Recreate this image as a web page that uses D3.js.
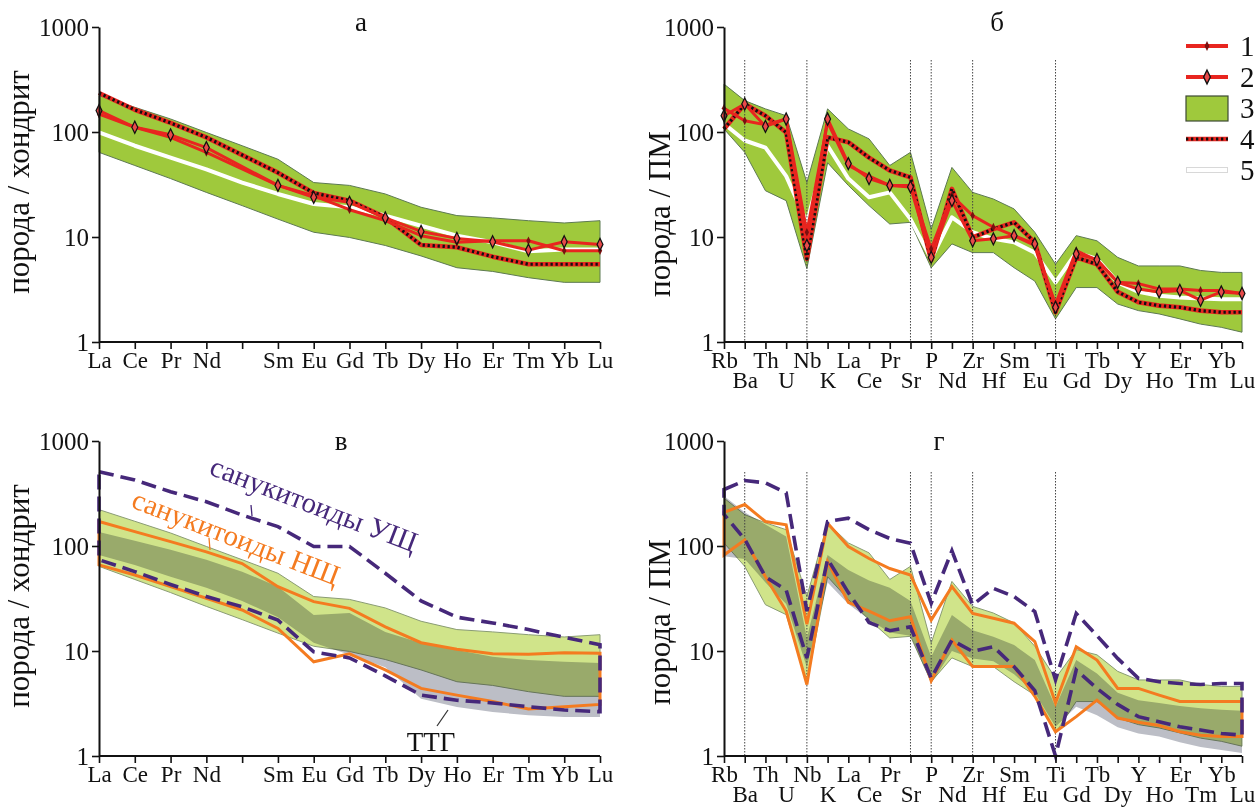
<!DOCTYPE html>
<html><head><meta charset="utf-8">
<script src="https://cdn.jsdelivr.net/npm/d3@7"></script>
<style>
body{margin:0;background:#fff}
svg{display:block}
text{font-family:"Liberation Serif","Times New Roman",serif;fill:#111}
</style>
</head><body>
<svg id="c" width="1260" height="810"></svg>
<script>
// ---------- categories ----------
const REE = ["La","Ce","Pr","Nd","Pm","Sm","Eu","Gd","Tb","Dy","Ho","Er","Tm","Yb","Lu"];
const REE_LABELS = ["La","Ce","Pr","Nd","","Sm","Eu","Gd","Tb","Dy","Ho","Er","Tm","Yb","Lu"];
const SPIDER = ["Rb","Ba","Th","U","Nb","K","La","Ce","Pr","Sr","P","Nd","Zr","Hf","Sm","Eu","Ti","Gd","Tb","Dy","Y","Ho","Er","Tm","Yb","Lu"];
const SPIDER_GUIDES = ["Ba","Nb","Sr","P","Zr","Ti"];
const Y_TICKS = [1,10,100,1000];
const PANEL_TITLES = ["а","б","в","г"];
const Y_TITLE_REE = "порода / хондрит";
const Y_TITLE_PM = "порода / ПМ";
const LEGEND_LABELS = ["1","2","3","4","5"];
const LABEL_UShch = "санукитоиды УЩ";
const LABEL_NShch = "санукитоиды НЩ";
const LABEL_TTG = "ТТГ";

// ---------- panel а (REE, chondrite-normalised) ----------
const reeBand3Hi = [222,172,133,99,74,55,33,31,25.7,19.2,16,15.2,14.3,13.6,14.3];
const reeBand3Lo = [64,48,36,26.6,19.9,14.8,11.1,9.9,8.3,6.6,5.1,4.7,4.1,3.7,3.7];
const reeWhite5  = [99,74,57,44,33,25.7,20.6,19.2,16,12.8,10.3,8.9,7.3,7.6,7.6];
const reeSer1    = [148,111,89,64,null,31,24.7,18.2,14.3,10.3,8.9,9.2,9.2,7.4,7.4];
const reeSer2    = [160,111,94,71,null,31,23.9,21.4,15.2,11.3,9.7,9.0,7.5,9.0,8.5];
const reeSer4    = [235,163,122,89,null,41,26.2,22.2,15.4,8.4,8.0,6.5,5.5,5.5,5.5];

// ---------- panel б (spider, PM-normalised) ----------
const spBand3Hi = [286,199,166,143,33,166,107,86,48,64,11.9,46,26.6,23,18.5,11.1,5.5,10.3,9.2,6.4,5.3,5.3,5.3,4.8,4.6,4.6];
const spBand3Lo = [107,64,27.6,22.2,5.0,51,31,19.9,13.3,13.8,5.1,8.6,7.1,7.1,5.1,3.8,1.66,3.3,3.3,2.3,1.99,1.85,1.66,1.48,1.38,1.24];
const spWhite5  = [120,83,71,38,13.8,74,36,23.9,26.6,14.8,6.2,15.4,11.1,9.6,8.9,7.1,3.7,7.1,6.2,3.7,3.0,2.76,2.66,2.6,2.55,2.55];
const spSer1    = [168,128,117,133,11.1,124,48,38,31,31,7.7,24.8,16,12.4,10.3,8.3,2.3,7.4,6.0,3.7,3.6,3.2,3.2,3.1,3.1,2.9];
const spSer2    = [143,185,113,133,8.3,133,50,36,31,30,6.4,22.2,9.2,9.6,10.3,8.6,2.14,6.9,6.1,3.7,3.2,3.0,3.1,2.5,3.0,2.9];
const spSer4    = [107,185,143,99,6.2,89,80,57,43,37,6.0,28.7,9.9,11.9,13.8,8.9,1.92,6.4,5.5,3.0,2.39,2.22,2.14,1.99,1.92,1.92];

// ---------- panel в (REE comparison) ----------
const reeTTGHi   = [136,112,92,74,57,41,22,23,15.2,11.9,10.2,8.8,8.2,7.9,7.7];
const reeTTGLo   = [82,66,51,40,30,21,12,9.2,7.0,3.5,2.93,2.62,2.45,2.35,2.35];
const reeUShchHi = [510,425,329,264,197,153,99,99,55,30,21,18.5,16,13.5,11.5];
const reeUShchLo = [74,57,43,33,26.4,19.7,9.8,8.6,5.8,3.8,3.4,3.2,2.95,2.74,2.64];
const reeNShchHi = [171,137,110,88,68,41,29.5,25.5,17,12,10.4,9.4,9.3,9.6,9.5];
const reeNShchLo = [66,53,41,31.8,24.6,16.4,7.9,9.4,6.6,4.4,3.8,3.3,2.8,2.95,3.1];

// ---------- panel г (spider comparison) ----------
const spTTGHi   = [300,210,160,123,13.4,82,59,47,40,30,8.8,22,15.8,13.7,11.4,8.2,2.95,8.2,6.1,4.0,3.4,3.2,3.0,2.85,2.75,2.7];
const spTTGLo   = [80,75,45,28,7,45,28,20,15,14,4.9,10,8.5,8,6,4,1.9,2.95,2.44,1.88,1.64,1.53,1.35,1.22,1.14,1.07];
const spUShchHi = [345,420,400,321,24,171,184,143,118,106,28.5,90,27.4,39.5,33,23.7,5.3,22.8,14,8.5,5.5,5.1,4.9,4.8,4.9,4.9];
const spUShchLo = [200,116,51,38,8.6,75,36,18.7,15.6,17,5.5,12.7,9.9,11,7.1,4.2,1.0,6.6,4.4,3.1,2.37,2.12,1.9,1.77,1.64,1.58];
const spNShchHi = [209,248,171,159,18,165,99,76,61,53,19.7,41,22.8,20.5,18.4,12.3,3.2,11,8.2,4.4,4.4,3.8,3.3,3.3,3.3,3.3];
const spNShchLo = [82,114,51,24,4.8,71,29,24,19.4,21.2,5.2,12.7,7.1,7.1,7.1,3.7,1.7,2.37,3.4,2.3,2.1,1.95,1.7,1.58,1.53,1.53];

// ---------- styles ----------
const RED = "#e8251f";
const GREEN = "#9fc93c", GREEN_EDGE = "#5d7a52";
const LGREEN = "#d0e48a", LGREEN_EDGE = "#8a9c74";
const GREY = "#bcbec6";
const PURPLE = "#46287a", ORANGE = "#f47b20";

const svg = d3.select("#c");

function makePanel(cfg){
  const g = svg.append("g");
  const x = d3.scalePoint().domain(cfg.cats).range([cfg.x0, cfg.x1]);
  const y = d3.scaleLog().domain([1,1000]).range([cfg.yb, cfg.yt]);
  return {g, x, y, cfg};
}
function pts(P, vals){ return P.cfg.cats.map((c,i)=>({c, v:vals[i]})).filter(d=>d.v!=null); }
function lineGen(P){ return d3.line().x(d=>P.x(d.c)).y(d=>P.y(d.v)); }
function band(P, lo, hi, fill, stroke, extra){
  const data = P.cfg.cats.map((c,i)=>({c, lo:lo[i], hi:hi[i]}));
  const area = d3.area().x(d=>P.x(d.c)).y0(d=>P.y(d.lo)).y1(d=>P.y(d.hi));
  const p = P.g.append("path").attr("d", area(data)).attr("fill", fill)
    .attr("stroke", stroke||"none").attr("stroke-width", 1);
  if(extra) extra(p);
  return p;
}
function envelope(P, lo, hi, color, dashed){
  const up = pts(P, hi), dn = pts(P, lo).reverse();
  const d = lineGen(P)(up.concat(dn)) + "Z";
  P.g.append("path").attr("d", d).attr("fill","none").attr("stroke", color)
    .attr("stroke-width", dashed?3.6:3).attr("stroke-linejoin","miter")
    .attr("stroke-dasharray", dashed?"15,7":null);
}
function simpleLine(P, vals, color, w, dash){
  return P.g.append("path").attr("d", lineGen(P)(pts(P, vals))).attr("fill","none")
    .attr("stroke", color).attr("stroke-width", w).attr("stroke-linejoin","round")
    .attr("stroke-dasharray", dash||null);
}
function markers(P, vals, size, fill, stroke, sw){
  P.g.append("g").selectAll("path").data(pts(P, vals)).join("path")
    .attr("d", d3.symbol(d3.symbolDiamond, size)())
    .attr("transform", d=>`translate(${P.x(d.c)},${P.y(d.v)}) scale(0.85,1)`)
    .attr("fill", fill).attr("stroke", stroke||"none").attr("stroke-width", sw||0);
}
function series4(P, vals){
  simpleLine(P, vals, RED, 4.6);
  simpleLine(P, vals, "#111", 3.2, "2.3,2.7");
}
function whiteLine(P, vals){ simpleLine(P, vals, "#ffffff", 4); }

function axes(P, labels, twoRows, title, yTitle, yTitleX, yTitleY){
  const c = P.cfg;
  const ya = P.g.append("g").attr("transform", `translate(${c.x0},0)`)
    .call(d3.axisLeft(P.y).tickValues(Y_TICKS).tickFormat(d3.format("d")).tickSize(7).tickSizeOuter(0).tickPadding(3));
  ya.select(".domain").attr("stroke","#111").attr("stroke-width",2);
  ya.selectAll(".tick line").attr("stroke","#111").attr("stroke-width",1.6);
  ya.selectAll(".tick text").attr("font-size",25).attr("font-family","Liberation Serif").attr("fill","#111");
  const xa = P.g.append("g").attr("transform", `translate(0,${c.yb})`)
    .call(d3.axisBottom(P.x).tickFormat((d,i)=>labels[i]).tickSize(7).tickSizeOuter(0).tickPadding(2));
  xa.select(".domain").attr("stroke","#111").attr("stroke-width",2)
    .attr("d", `M${c.x0},0H${c.x1}`);
  xa.selectAll(".tick line").attr("stroke","#111").attr("stroke-width",1.6);
  xa.selectAll(".tick text").attr("font-size",23).attr("font-family","Liberation Serif").attr("fill","#111")
    .attr("dy", (d,i)=> twoRows && i%2===1 ? "1.62em" : "0.72em");
  P.g.append("text").attr("x", c.titleX).attr("y", c.titleY).attr("text-anchor","middle")
    .attr("font-size",27).text(title);
  P.g.append("text").attr("transform", `translate(${yTitleX},${yTitleY}) rotate(-90)`)
    .attr("text-anchor","middle").attr("font-size",31).text(yTitle);
}
function guides(P, top){
  SPIDER_GUIDES.forEach(el=>{
    P.g.append("line").attr("x1",P.x(el)).attr("x2",P.x(el)).attr("y1",top).attr("y2",P.cfg.yb)
      .attr("stroke","#444").attr("stroke-width",1).attr("stroke-dasharray","1.5,1.5");
  });
}

// ================= panel а =================
const A = makePanel({cats:REE, x0:99, x1:600, yt:27, yb:342, titleX:361, titleY:31});
band(A, reeBand3Lo, reeBand3Hi, GREEN, GREEN_EDGE);
whiteLine(A, reeWhite5);
series4(A, reeSer4);
simpleLine(A, reeSer1, RED, 3);
simpleLine(A, reeSer2, RED, 3);
markers(A, reeSer1, 22, "#7a1010");
markers(A, reeSer2, 42, "#e84a4a", "#111", 1.4);
axes(A, REE_LABELS, false, PANEL_TITLES[0], Y_TITLE_REE, 29, 182);

// ================= panel б =================
const B = makePanel({cats:SPIDER, x0:724, x1:1242, yt:27, yb:342, titleX:997, titleY:31});
band(B, spBand3Lo, spBand3Hi, GREEN, GREEN_EDGE);
whiteLine(B, spWhite5);
guides(B, 60);
series4(B, spSer4);
simpleLine(B, spSer1, RED, 3);
simpleLine(B, spSer2, RED, 3);
markers(B, spSer1, 22, "#7a1010");
markers(B, spSer2, 42, "#e84a4a", "#111", 1.4);
axes(B, SPIDER, true, PANEL_TITLES[1], Y_TITLE_PM, 670, 214);

// legend
(function(){
  const lg = svg.append("g");
  const lx0 = 1186, lx1 = 1228, tx = 1240;
  const ys = [46,77,108,139,170];
  lg.append("line").attr("x1",lx0).attr("x2",lx1).attr("y1",ys[0]).attr("y2",ys[0]).attr("stroke",RED).attr("stroke-width",4);
  lg.append("path").attr("d",d3.symbol(d3.symbolDiamond,28)()).attr("transform",`translate(${(lx0+lx1)/2},${ys[0]}) scale(0.85,1)`).attr("fill","#7a1010");
  lg.append("line").attr("x1",lx0).attr("x2",lx1).attr("y1",ys[1]).attr("y2",ys[1]).attr("stroke",RED).attr("stroke-width",4);
  lg.append("path").attr("d",d3.symbol(d3.symbolDiamond,55)()).attr("transform",`translate(${(lx0+lx1)/2},${ys[1]}) scale(0.85,1)`).attr("fill","#e84a4a").attr("stroke","#111").attr("stroke-width",1.5);
  lg.append("rect").attr("x",lx0).attr("y",ys[2]-12).attr("width",lx1-lx0).attr("height",25).attr("fill",GREEN).attr("stroke","#3d4a33").attr("stroke-width",1.2);
  lg.append("line").attr("x1",lx0).attr("x2",lx1).attr("y1",ys[3]).attr("y2",ys[3]).attr("stroke",RED).attr("stroke-width",4.6);
  lg.append("line").attr("x1",lx0).attr("x2",lx1).attr("y1",ys[3]).attr("y2",ys[3]).attr("stroke","#111").attr("stroke-width",3.2).attr("stroke-dasharray","2.3,2.7");
  lg.append("line").attr("x1",lx0).attr("x2",lx1).attr("y1",ys[4]).attr("y2",ys[4]).attr("stroke","#d8d8d8").attr("stroke-width",6);
  lg.append("line").attr("x1",lx0+1).attr("x2",lx1-1).attr("y1",ys[4]).attr("y2",ys[4]).attr("stroke","#fff").attr("stroke-width",4);
  lg.selectAll("text.lab").data(LEGEND_LABELS).join("text").attr("class","lab")
    .attr("x",tx).attr("y",(d,i)=>ys[i]+10).attr("font-size",29).text(d=>d);
})();

// ================= panel в =================
const V = makePanel({cats:REE, x0:99, x1:600, yt:441, yb:756, titleX:341, titleY:450});
band(V, reeBand3Lo, reeBand3Hi, LGREEN, LGREEN_EDGE);
band(V, reeTTGLo, reeTTGHi, GREY, "none", p=>p.style("mix-blend-mode","multiply"));
envelope(V, reeNShchLo, reeNShchHi, ORANGE, false);
envelope(V, reeUShchLo, reeUShchHi, PURPLE, true);
axes(V, REE_LABELS, false, PANEL_TITLES[2], Y_TITLE_REE, 29, 596);
V.g.append("text").attr("transform","translate(208,474) rotate(21)").attr("font-size",29).style("fill",PURPLE).text(LABEL_UShch);
V.g.append("line").attr("x1",251).attr("y1",505).attr("x2",252).attr("y2",516).attr("stroke",PURPLE).attr("stroke-width",1.3);
V.g.append("text").attr("transform","translate(130,507) rotate(21)").attr("font-size",29).style("fill",ORANGE).text(LABEL_NShch);
V.g.append("line").attr("x1",209).attr("y1",538).attr("x2",210).attr("y2",550).attr("stroke",ORANGE).attr("stroke-width",1.3);
V.g.append("text").attr("x",431).attr("y",751).attr("text-anchor","middle").attr("font-size",27).text(LABEL_TTG);
V.g.append("line").attr("x1",437).attr("y1",726).attr("x2",448).attr("y2",710).attr("stroke","#333").attr("stroke-width",1.2);

// ================= panel г =================
const G = makePanel({cats:SPIDER, x0:724, x1:1242, yt:441, yb:756, titleX:939, titleY:450});
band(G, spBand3Lo, spBand3Hi, LGREEN, LGREEN_EDGE);
band(G, spTTGLo, spTTGHi, GREY, "none", p=>p.style("mix-blend-mode","multiply"));
guides(G, 472);
envelope(G, spNShchLo, spNShchHi, ORANGE, false);
envelope(G, spUShchLo, spUShchHi, PURPLE, true);
axes(G, SPIDER, true, PANEL_TITLES[3], Y_TITLE_PM, 670, 622);
</script>
</body></html>
